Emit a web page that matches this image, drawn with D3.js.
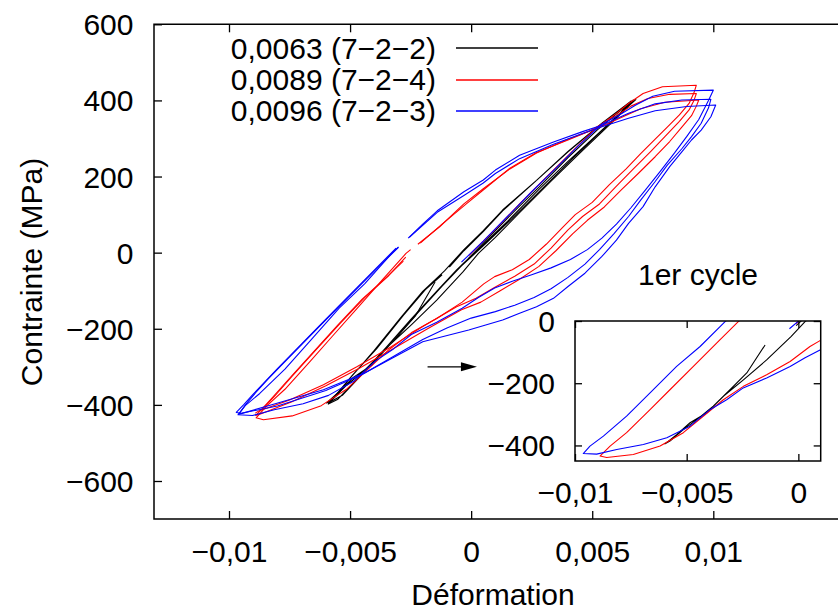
<!DOCTYPE html>
<html><head><meta charset="utf-8">
<script src="https://cdn.jsdelivr.net/npm/d3@7"></script>
<style>body{margin:0;background:#fff} svg text{font-family:"Liberation Sans",Arial,Helvetica,sans-serif;}</style>
</head><body><svg id="c" width="838" height="612"></svg>
<script>
// ---------------- data ----------------
const seriesNames = ["0,0063 (7\u22122\u22122)", "0,0089 (7\u22122\u22124)", "0,0096 (7\u22122\u22123)"];
const seriesColors = ["#000000", "#ff0000", "#0000ff"];
const xTicks = [-0.01, -0.005, 0, 0.005, 0.01];
const xTickLabels = ["\u22120,01", "\u22120,005", "0", "0,005", "0,01"];
const yTicks = [600, 400, 200, 0, -200, -400, -600];
const yTickLabels = ["600", "400", "200", "0", "\u2212200", "\u2212400", "\u2212600"];
const insetXTicks = [-0.01, -0.005, 0];
const insetXTickLabels = ["\u22120,01", "\u22120,005", "0"];
const insetYTicks = [0, -200, -400];
const insetYTickLabels = ["0", "\u2212200", "\u2212400"];
const arrowFrom = [-0.0018, -300];
const arrowTo = [0.00024, -300];

// black, 0.0063 (7-2-2): strain, stress (MPa)
const blackCycle1 = [[-0.0001,-15],[0.0008,45],[0.0018,110],[0.0028,172],[0.0040,250],[0.0052,322],[0.0062,375],[0.0068,402],
 [0.0065,385],[0.0057,335],[0.0045,262],[0.0033,188],[0.0020,105],[0.0010,40],[0.0003,-2],[-0.00033,-50],[-0.00142,-125],[-0.00246,-189],[-0.00336,-242],[-0.0041,-295],[-0.00485,-327],[-0.00545,-365],[-0.00597,-395],
 [-0.00575,-386],[-0.00515,-349],[-0.00455,-317],[-0.00381,-274],[-0.00306,-221],[-0.00231,-167],[-0.00149,-77]];
const blackCycles = [[-0.0009,-38],[-0.0003,5],[0.0005,55],[0.0013,110],[0.0027,190],[0.0040,265],[0.0054,340],[0.0067,401],
 [0.0064,380],[0.0054,320],[0.0042,248],[0.0030,172],[0.0017,90],[0.0006,24],[-0.0004,-35],[-0.0012,-88],[-0.0023,-165],[-0.0033,-235],[-0.0043,-306],[-0.0053,-374],[-0.0059,-395],
 [-0.0055,-372],[-0.0050,-330],[-0.0040,-257],[-0.0029,-170],[-0.0020,-102],[-0.0011,-48],[-0.0003,8],[0.0005,58],[0.0013,112],[0.0027,190],[0.0040,266],[0.0054,340],[0.0066,398],
 [0.0062,370],[0.0052,310],[0.0040,240],[0.0028,166],[0.0015,82],[0.0004,16],[-0.0006,-45],[-0.0014,-100],[-0.0025,-176],[-0.0035,-248],[-0.0045,-318],[-0.0055,-385],[-0.0059,-398],
 [-0.0056,-375],[-0.0049,-322],[-0.0039,-252],[-0.0028,-165],[-0.0019,-98],[-0.0012,-58]];

// red, 0.0089 (7-2-4)
const redCycle1 = [[-0.0001,-8],[0.0010,62],[0.0020,128],[0.0030,192],[0.0040,255],[0.0050,318],[0.0054,338],[0.0060,366],[0.0065,392],[0.0071,418],[0.0079,436],[0.0093,440],
 [0.0092,420],[0.0090,392],[0.0086,362],[0.0081,330],[0.0076,298],[0.0070,260],[0.0064,220],[0.0057,178],[0.0050,132],[0.0043,100],[0.0038,68],[0.0031,22],[0.0024,-18],[0.0017,-45],[0.00097,-63],[0.00052,-82],[-0.00037,-130],[-0.00142,-173],[-0.00246,-210],[-0.00336,-253],[-0.00426,-306],[-0.00515,-359],[-0.00619,-402],[-0.00739,-429],[-0.00858,-439],[-0.00888,-434],
 [-0.00843,-402],[-0.00769,-359],[-0.00664,-285],[-0.00575,-221],[-0.0047,-146],[-0.00366,-71],[-0.00269,-2],[-0.0025,8]];
const redCycle2 = [[-0.0022,22],[-0.0013,68],[-0.0003,128],[0.0005,168],[0.0016,220],[0.0027,262],[0.0040,298],[0.0049,320],[0.0054,338],[0.0060,360],[0.0066,385],[0.0073,405],[0.0082,416],[0.0093,418],
 [0.0092,400],[0.0090,375],[0.0086,345],[0.0080,305],[0.0074,265],[0.0067,220],[0.0060,175],[0.0053,128],[0.0046,95],[0.0040,60],[0.0033,12],[0.0026,-30],[0.0018,-62],[0.0010,-90],[0.0002,-120],[-0.0006,-142],[-0.0020,-194],[-0.0033,-247],[-0.0047,-299],[-0.0061,-347],[-0.0075,-387],[-0.0088,-417],[-0.0089,-421],
 [-0.0086,-410],[-0.0081,-376],[-0.0074,-325],[-0.0064,-255],[-0.0054,-185],[-0.0044,-118],[-0.0034,-60],[-0.0027,-12]];
const redCycle3 = [[-0.0021,25],[-0.0012,75],[-0.0002,128],[0.0006,170],[0.0016,222],[0.0027,263],[0.0040,296],[0.0050,322],[0.0055,335],[0.0062,355],[0.0070,378],[0.0080,395],[0.0094,401],
 [0.0093,385],[0.0091,360],[0.0087,330],[0.0082,292],[0.0076,252],[0.0069,208],[0.0062,165],[0.0055,120],[0.0048,85],[0.0042,50],[0.0035,5],[0.0028,-36],[0.0020,-70],[0.0012,-100],[0.0004,-130],[-0.0004,-150],[-0.0018,-200],[-0.0032,-252],[-0.0046,-303],[-0.0060,-350],[-0.0074,-392],[-0.0087,-424],[-0.0089,-428],
 [-0.0087,-415],[-0.0082,-380],[-0.0075,-330],[-0.0065,-260],[-0.0055,-190],[-0.0045,-122],[-0.0035,-65],[-0.0028,-22]];

// blue, 0.0096 (7-2-3)
const blueCycle1 = [[-0.0004,-25],[0.0005,30],[0.0015,95],[0.0025,160],[0.0035,222],[0.0045,285],[0.0054,338],[0.0061,361],[0.0068,388],[0.0075,411],[0.0084,424],[0.0100,427],
 [0.0098,400],[0.0094,350],[0.0089,305],[0.0084,262],[0.0078,213],[0.0072,165],[0.0066,118],[0.0060,75],[0.0054,38],[0.0048,8],[0.0041,-18],[0.0033,-40],[0.0025,-58],[0.0017,-75],[0.00097,-93],[0.0003,-118],[-0.00037,-146],[-0.00142,-183],[-0.00247,-215],[-0.00321,-253],[-0.00396,-285],[-0.00485,-338],[-0.00589,-375],[-0.00694,-397],[-0.00813,-413],[-0.00903,-428],[-0.00963,-426],
 [-0.00933,-402],[-0.00873,-370],[-0.00769,-306],[-0.00664,-231],[-0.00545,-146],[-0.0044,-82],[-0.00328,-2],[-0.0030,15]];
const blueCycle2 = [[-0.0026,38],[-0.0020,75],[-0.0014,110],[-0.0003,160],[0.0005,191],[0.0010,217],[0.0020,256],[0.0034,291],[0.0046,318],[0.0054,335],[0.0065,366],[0.0076,391],[0.0087,401],[0.0099,403],
 [0.0098,380],[0.0095,340],[0.0091,305],[0.0087,273],[0.0081,230],[0.0076,187],[0.0070,138],[0.0065,95],[0.0059,50],[0.0053,8],[0.0047,-30],[0.0040,-65],[0.0033,-95],[0.0026,-118],[0.0018,-138],[0.0010,-155],[0.0000,-172],[-0.0010,-198],[-0.0020,-228],[-0.0030,-265],[-0.0045,-320],[-0.0060,-362],[-0.0080,-403],[-0.0095,-422],[-0.0097,-420],
 [-0.0094,-400],[-0.0090,-372],[-0.0085,-338],[-0.0080,-305],[-0.0070,-240],[-0.0060,-175],[-0.0050,-110],[-0.0040,-46],[-0.0031,12]];
const blueCycle3 = [[-0.00255,40],[-0.0020,72],[-0.0014,106],[-0.0003,150],[0.0005,183],[0.0010,208],[0.0020,247],[0.0034,285],[0.0046,313],[0.0054,331],[0.0065,353],[0.0076,373],[0.0089,384],[0.0101,388],
 [0.0099,357],[0.0095,322],[0.0091,296],[0.0087,265],[0.0082,226],[0.0076,173],[0.0071,121],[0.0065,77],[0.0060,33],[0.0054,-10],[0.0047,-54],[0.0040,-89],[0.0034,-120],[0.0027,-142],[0.0020,-159],[0.0013,-177],[0.0006,-190],[-0.0001,-203],[-0.0020,-234],[-0.0044,-316],[-0.0061,-360],[-0.0082,-399],[-0.0096,-425],
 [-0.0093,-398],[-0.0089,-368],[-0.0084,-333],[-0.0079,-300],[-0.0069,-235],[-0.0059,-170],[-0.0049,-106],[-0.0039,-42],[-0.0030,14]];

// ---------------- drawing ----------------
const mainSegments = [
  {c:0, d:blackCycle1},{c:0, d:blackCycles},
  {c:1, d:redCycle1},{c:1, d:redCycle2},{c:1, d:redCycle3},
  {c:2, d:blueCycle1},{c:2, d:blueCycle2},{c:2, d:blueCycle3}];
const insetSegments = [{c:0, d:blackCycle1},{c:1, d:redCycle1},{c:2, d:blueCycle1}];

const svg = d3.select("#c");
const FONT = 30;
const x = d3.scaleLinear().domain([-0.01, 0.01]).range([229, 713.3]);
const y = d3.scaleLinear().domain([-600, 600]).range([481, 24.3]);
const plot = {l:154, t:24.3, r:838, b:519};

const defs = svg.append("defs");
defs.append("clipPath").attr("id","clipMain").append("rect")
  .attr("x",plot.l).attr("y",plot.t).attr("width",plot.r-plot.l+10).attr("height",plot.b-plot.t);

function styleAxis(g){
  g.select(".domain").remove();
  g.selectAll(".tick line").attr("stroke","#000").attr("stroke-width",1.3);
  g.attr("font-size",FONT).attr("font-family",'"Liberation Sans",Arial,sans-serif');
  g.selectAll("text").attr("fill","#000");
}

// main axes
svg.append("g").attr("transform",`translate(0,${plot.b})`)
  .call(d3.axisBottom(x).tickValues(xTicks).tickSize(-8).tickFormat((d,i)=>xTickLabels[i]))
  .call(styleAxis).call(g=>g.selectAll("text").attr("y",43).attr("dy",null));
svg.append("g").attr("transform",`translate(0,${plot.t})`)
  .call(d3.axisTop(x).tickValues(xTicks).tickSize(-8).tickFormat(""))
  .call(styleAxis);
svg.append("g").attr("transform",`translate(${plot.l},0)`)
  .call(d3.axisLeft(y).tickValues(yTicks).tickSize(-8).tickPadding(20.5).tickFormat((d,i)=>yTickLabels[i]))
  .call(styleAxis).call(g=>g.selectAll("text").attr("dy","0.35em"));

// borders
svg.append("path").attr("d",`M${plot.r+5},${plot.t}H${plot.l}V${plot.b}H${plot.r+5}`)
  .attr("fill","none").attr("stroke","#000").attr("stroke-width",1.5);

// data lines
const line = d3.line().x(d=>x(d[0])).y(d=>y(d[1]));
const gMain = svg.append("g").attr("clip-path","url(#clipMain)");
gMain.selectAll("path.seg").data(mainSegments).join("path").attr("class","seg")
  .attr("d",s=>line(s.d)).attr("fill","none")
  .attr("stroke",s=>seriesColors[s.c]).attr("stroke-width",1.1).attr("stroke-linejoin","round");

// legend
const leg = svg.append("g");
seriesNames.forEach((n,i)=>{
  const yy = 48.3 + i*31.2;
  leg.append("text").attr("x",436).attr("y",yy).attr("dy","0.35em").attr("text-anchor","end")
    .attr("font-size",FONT).attr("fill","#000").text(n);
  const ly = Math.round(yy);
  leg.append("line").attr("x1",456).attr("x2",538).attr("y1",ly).attr("y2",ly)
    .attr("stroke",seriesColors[i]).attr("stroke-width",1.6);
});

// axis titles
svg.append("text").attr("x",493).attr("y",605).attr("text-anchor","middle").attr("font-size",FONT).text("D\u00e9formation");
svg.append("text").attr("transform","translate(42,272) rotate(-90)").attr("text-anchor","middle").attr("font-size",FONT).text("Contrainte (MPa)");

// arrow
const ax1 = x(arrowFrom[0]), ax2 = x(arrowTo[0]), ay = y(arrowFrom[1]);
svg.append("line").attr("x1",ax1).attr("x2",ax2-12).attr("y1",ay).attr("y2",ay).attr("stroke","#000").attr("stroke-width",1.3);
svg.append("path").attr("d",`M${ax2},${ay}L${ax2-16},${ay-4.5}L${ax2-16},${ay+4.5}Z`).attr("fill","#000");

// inset
const xi = d3.scaleLinear().domain([-0.01, 0.001]).range([575, 820.7]);
const yi = d3.scaleLinear().domain([-450, 0]).range([461, 321]);
const ib = {l:575, t:321, r:820.7, b:461};
defs.append("clipPath").attr("id","clipInset").append("rect")
  .attr("x",ib.l).attr("y",ib.t).attr("width",ib.r-ib.l).attr("height",ib.b-ib.t);
svg.append("rect").attr("x",ib.l).attr("y",ib.t).attr("width",ib.r-ib.l).attr("height",ib.b-ib.t).attr("fill","#fff");
const linei = d3.line().x(d=>xi(d[0])).y(d=>yi(d[1]));
svg.append("g").attr("clip-path","url(#clipInset)")
  .selectAll("path").data(insetSegments).join("path")
  .attr("d",s=>linei(s.d)).attr("fill","none")
  .attr("stroke",s=>seriesColors[s.c]).attr("stroke-width",1.1).attr("stroke-linejoin","round");
svg.append("g").attr("transform",`translate(0,${ib.b})`)
  .call(d3.axisBottom(xi).tickValues(insetXTicks).tickSize(-7).tickFormat((d,i)=>insetXTickLabels[i]))
  .call(styleAxis).call(g=>g.selectAll("text").attr("y",42).attr("dy",null));
svg.append("g").attr("transform",`translate(0,${ib.t})`)
  .call(d3.axisTop(xi).tickValues(insetXTicks).tickSize(-7).tickFormat(""))
  .call(styleAxis);
svg.append("g").attr("transform",`translate(${ib.l},0)`)
  .call(d3.axisLeft(yi).tickValues(insetYTicks).tickSize(-7).tickPadding(20).tickFormat((d,i)=>insetYTickLabels[i]))
  .call(styleAxis).call(g=>g.selectAll("text").attr("dy","0.35em"));
svg.append("g").attr("transform",`translate(${ib.r},0)`)
  .call(d3.axisRight(yi).tickValues(insetYTicks).tickSize(-7).tickFormat(""))
  .call(styleAxis);
svg.append("rect").attr("x",ib.l).attr("y",ib.t).attr("width",ib.r-ib.l).attr("height",ib.b-ib.t)
  .attr("fill","none").attr("stroke","#000").attr("stroke-width",1.5);
svg.append("text").attr("x",698).attr("y",285).attr("text-anchor","middle").attr("font-size",FONT).text("1er cycle");
</script></body></html>
